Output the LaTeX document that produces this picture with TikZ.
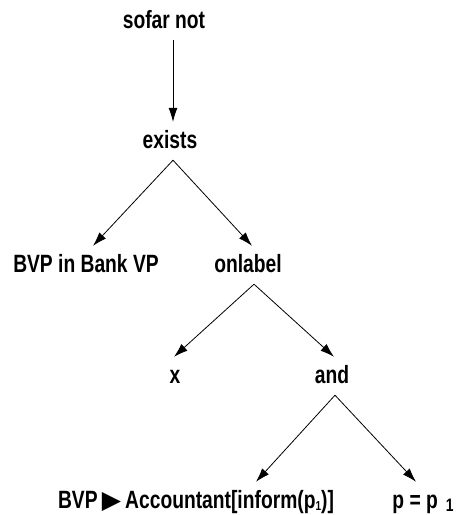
\documentclass[tikz,border=0pt]{standalone}
\usepackage{fontspec}
\setmainfont{Liberation Sans}[FakeStretch=0.77]
\newfontfamily\symfont{DejaVu Sans}
\usetikzlibrary{arrows.meta}

\tikzset{
  lbl/.style={anchor=base,font=\fontsize{25}{29}\selectfont\bfseries,
    text height=17pt,text depth=3pt,inner xsep=0pt,inner ysep=9pt},
  edge/.style={-{Latex[length=14pt,width=9pt]},line width=0.8pt}
}
\newcommand{\tinysub}[1]{\raisebox{-2pt}{\fontsize{13}{13}\selectfont #1}}
\newcommand{\bigsub}[1]{\raisebox{-3pt}{\fontsize{18}{18}\selectfont #1}}

\begin{document}
\begin{tikzpicture}[x=1pt,y=-1pt]
\useasboundingbox (0,0) rectangle (456,515);

\node[lbl] (sofar) at (164,28) {sofar not};
\node[lbl] (exists) at (170,148) {exists};
\node[lbl] (bank) at (86,272) {BVP in Bank VP};
\node[lbl] (onlabel) at (248,272) {onlabel};
\node[lbl] (x) at (175,383) {x};
\node[lbl] (and) at (332,383) {and};
\node[lbl] (acct) at (196,508) {BVP\,{\symfont\fontsize{25}{25}\selectfont ▶}\,Accountant[inform(p\tinysub{1})]};
\node[lbl] (peq) at (423,508) {p = p\hspace{8pt}\bigsub{1}};

\draw[edge] ([xshift=9pt]sofar.south) -- ([xshift=3pt]exists.north);
\draw[edge] ([xshift=3pt]exists.south) -- ([xshift=7pt]bank.north);
\draw[edge] ([xshift=3pt]exists.south) -- ([xshift=4pt]onlabel.north);
\draw[edge] ([xshift=6pt]onlabel.south) -- ([xshift=-1pt]x.north);
\draw[edge] ([xshift=6pt]onlabel.south) -- ([xshift=2pt]and.north);
\draw[edge] ([xshift=3pt]and.south) -- ([xshift=60pt]acct.north);
\draw[edge] ([xshift=3pt]and.south) -- ([xshift=-7pt]peq.north);
\end{tikzpicture}
\end{document}
